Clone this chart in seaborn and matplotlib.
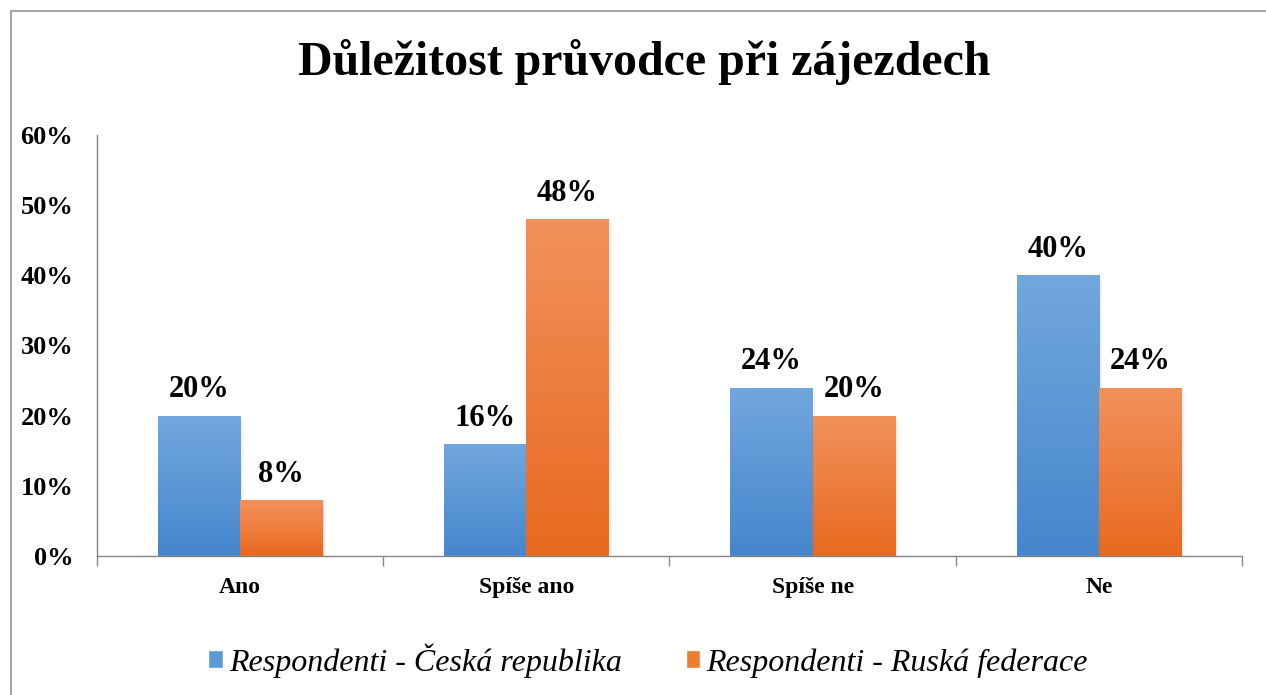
import numpy as np
import pandas as pd
import matplotlib
matplotlib.use('Agg')
import matplotlib.pyplot as plt
from matplotlib.colors import LinearSegmentedColormap
from matplotlib.lines import Line2D
from matplotlib.ticker import FuncFormatter, FixedLocator
import seaborn as sns

# data
kategorie = ['Ano', 'Spíše ano', 'Spíše ne', 'Ne']
skupiny = ['Respondenti - Česká republika', 'Respondenti - Ruská federace']
cz_hodnoty = [20, 16, 24, 40]
ru_hodnoty = [8, 48, 20, 24]

df = pd.DataFrame({
    'kategorie': kategorie * 2,
    'hodnota': cz_hodnoty + ru_hodnoty,
    'skupina': [skupiny[0]] * 4 + [skupiny[1]] * 4,
})

sns.set_style('white')
plt.rcParams['font.family'] = ['Liberation Serif', 'DejaVu Serif']
plt.rcParams['text.color'] = 'black'
plt.rcParams['xtick.labelcolor'] = 'black'
plt.rcParams['ytick.labelcolor'] = 'black'

fig = plt.figure(figsize=(12.66, 6.95), dpi=100)
ax = fig.add_axes([0.0766, 0.2, 0.9044, 0.606])

barvy = ['#5b9bd5', '#ed7d31']
sns.barplot(data=df, x='kategorie', y='hodnota', hue='skupina', order=kategorie,
            hue_order=skupiny, palette=barvy, width=0.575, saturation=1, ax=ax)

# gradient vypln sloupcu (Excel styl)
gradienty = [('#72a7de', '#4586cc'), ('#f2915c', '#e8691f')]
for cont, (horni, dolni) in zip(ax.containers, gradienty):
    cmap = LinearSegmentedColormap.from_list('g', [dolni, horni])
    for bar in cont:
        x0, y0 = bar.get_x(), bar.get_y()
        w, h = bar.get_width(), bar.get_height()
        # jemny rozmazany stin
        for k, a in enumerate([0.10, 0.06, 0.03]):
            stin = plt.Rectangle((x0 + 0.004 * (k + 1), y0), w, h - 0.25 * (k + 1),
                                 color='black', alpha=a, zorder=1.5, lw=0)
            ax.add_patch(stin)
        grad = np.linspace(0, 1, 256).reshape(-1, 1)
        im = ax.imshow(grad, extent=[x0, x0 + w, y0, y0 + h], origin='lower',
                       cmap=cmap, aspect='auto', zorder=2.5)
        im.set_clip_path(bar)
        bar.set_zorder(2)
    ax.bar_label(cont, labels=[f'{int(v)}%' for v in cont.datavalues], padding=8,
                 fontsize=22, fontweight='bold', color='black')

ax.set_xlim(-0.5, 3.5)
ax.set_ylim(0, 60)
ax.set_yticks(range(0, 61, 10))
ax.yaxis.set_major_formatter(FuncFormatter(lambda v, p: f'{int(v)}%'))
ax.xaxis.set_minor_locator(FixedLocator([-0.5, 0.5, 1.5, 2.5, 3.5]))

ax.tick_params(axis='y', which='major', direction='out', length=6, width=1,
               color='#868686', pad=11, labelsize=19, labelcolor='black')
ax.tick_params(axis='x', which='major', length=0, pad=15, labelsize=17, labelcolor='black')
ax.tick_params(axis='x', which='minor', direction='out', length=7, width=1,
               color='#868686', bottom=True)
for lab in ax.get_yticklabels() + ax.get_xticklabels():
    lab.set_fontweight('bold')

sns.despine(ax=ax)
for s in ['left', 'bottom']:
    ax.spines[s].set_color('#868686')
    ax.spines[s].set_linewidth(1)
ax.set_xlabel('')
ax.set_ylabel('')

# legenda
handles, labels = ax.get_legend_handles_labels()
ax.get_legend().remove()
leg = fig.legend(handles, labels, loc='center', bbox_to_anchor=(0.512, 0.05), ncol=2,
                 frameon=False, handlelength=0.45, handleheight=0.5, handletextpad=0.2,
                 columnspacing=2.0, prop={'size': 23, 'style': 'italic'})
for t in leg.get_texts():
    t.set_color('black')

fig.text(0.509, 0.911, 'Důležitost průvodce při zájezdech', ha='center', va='center',
         fontsize=34.5, fontweight='bold', color='black')

# ramecek grafu
fig.add_artist(Line2D([11 / 1266, 11 / 1266], [0, 1 - 11 / 695], color='#a6a6a6', lw=1.5))
fig.add_artist(Line2D([11 / 1266, 1], [1 - 11 / 695, 1 - 11 / 695], color='#a6a6a6', lw=1.5))

fig.savefig('out.png', dpi=100)
